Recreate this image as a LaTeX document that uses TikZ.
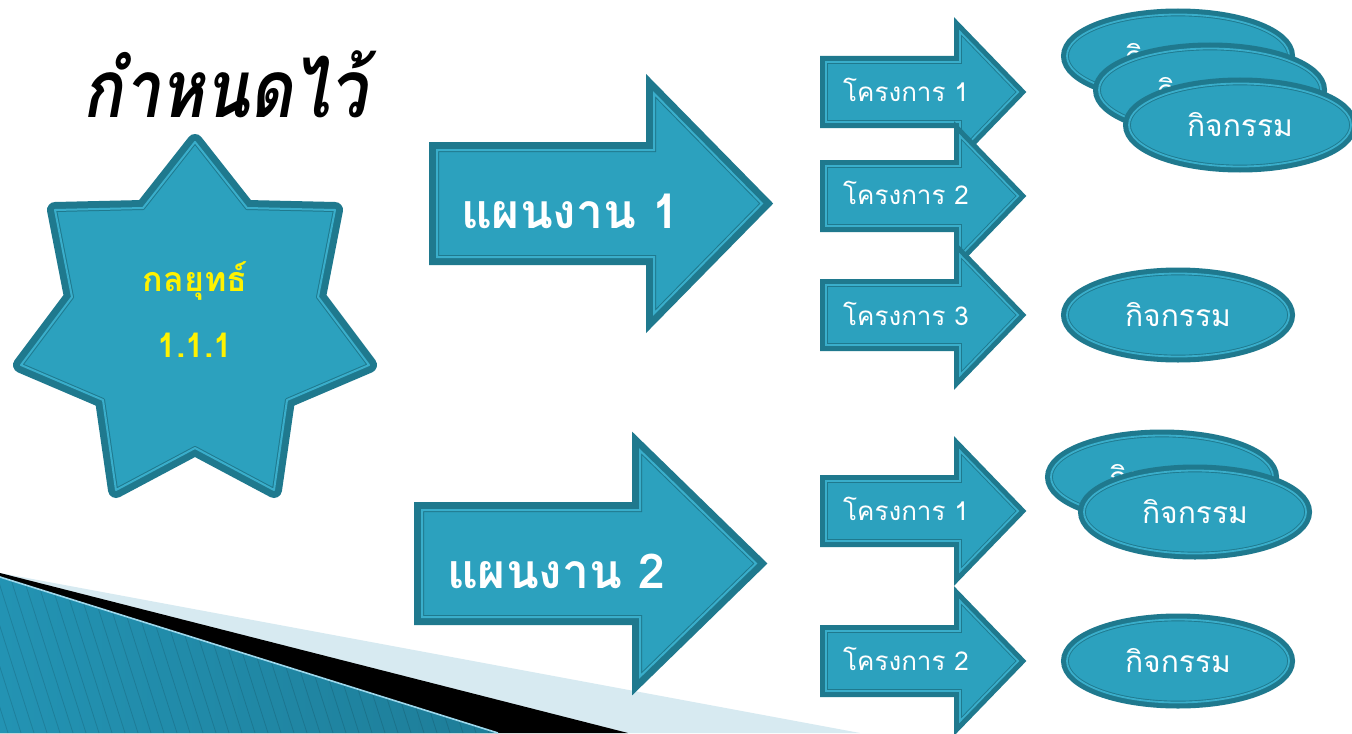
\documentclass[tikz,border=0pt]{standalone}
\usepackage{fontspec}
\usetikzlibrary{shapes.geometric}
\newfontfamily\thaifont[Script=Thai]{Loma}
\newfontfamily\titlefont[Script=Thai,FakeStretch=0.83]{Loma}
\definecolor{tealfill}{HTML}{2CA1BE}
\definecolor{tealdark}{HTML}{1F798E}
\definecolor{teallight}{HTML}{3AAECB}
\definecolor{paleblue}{HTML}{D7EAF1}
\definecolor{stripedark}{HTML}{2393B3}
\definecolor{stripelight}{HTML}{5CBEDF}
\def\planarrow[#1](#2,#3)(#4:#5:#6:#7){\draw[#1] (#2,{#3-#5}) -- ({#2+#4-#7},{#3-#5}) -- ({#2+#4-#7},{#3-#6}) -- ({#2+#4},#3) -- ({#2+#4-#7},{#3+#6}) -- ({#2+#4-#7},{#3+#5}) -- (#2,{#3+#5}) -- cycle;}
\tikzset{
	tealshape/.style={fill=tealfill, preaction={draw=tealdark, line width=8pt, line join=miter}, draw=tealdark, double=teallight, line width=0.5pt, double distance=1pt, line join=miter},
	starshape/.style={fill=tealfill, preaction={draw=tealdark, line width=8pt, line join=round}, draw=tealdark, double=teallight, line width=0.5pt, double distance=1pt, line join=round},
	smallshape/.style={fill=tealfill, preaction={draw=tealdark, line width=6pt, line join=miter}, draw=tealdark, double=teallight, line width=0.45pt, double distance=0.9pt, line join=miter},
	actbox/.style={ellipse, fill=tealfill, preaction={draw=tealdark, line width=6pt}, draw=tealdark, double=teallight, line width=0.45pt, double distance=0.9pt, minimum width=111pt, minimum height=41.5pt, text=white, font=\thaifont\fontsize{15}{18}\selectfont},
	projtext/.style={text=white, font=\thaifont\fontsize{13}{15}\selectfont},
	plantext/.style={text=white, font=\thaifont\bfseries\fontsize{24}{28}\selectfont},
	strattext/.style={text=yellow, font=\thaifont\bfseries\fontsize{17}{20}\selectfont}
}
\begin{document}
\begin{tikzpicture}[x=0.5pt, y=-0.5pt]
		%%%%% START %%%%%
		\clip (0, 0) rectangle (1352, 733);
		\fill[white] (0, 0) rectangle (1352, 733);
		
		% corner decoration
		\fill[paleblue] (0, 573) -- (860, 733) -- (0, 733) -- cycle;
		\fill[black] (0, 573) -- (628, 733) -- (0, 733) -- cycle;
		\shade[left color=stripedark, middle color=stripelight, right color=stripedark!85!black] (0, 577) -- (498, 733) -- (0, 733) -- cycle;
		\begin{scope}
			\clip (0, 577) -- (498, 733) -- (0, 733) -- cycle;
			\foreach \s in {-70,-57,...,520}
				\draw[line width=0.4pt, color=black, opacity=0.12] (\s, 570) -- ({\s+52}, 733);
		\end{scope}
		\draw[line width=0.8pt, color=stripelight!60!white] (0, 577) -- (498, 733);
		
		% title
		\node (title) at (225, 84) {\titlefont\bfseries\itshape\fontsize{40}{44}\selectfont กำหนดไว้};
		
		% star
		\draw[starshape] (195, 142) -- (247, 208) -- (335, 210) -- (318, 297) -- (369, 365) -- (287, 400) -- (274, 490) -- (195, 448) -- (116, 490) -- (103, 400) -- (21, 365) -- (72, 297) -- (55, 210) -- (143, 208) -- cycle;
		\node[strattext] (strat) at (195, 281) {กลยุทธ์};
		\node[strattext] (stratnum) at (195, 345) {1.1.1};
		
		% plans
		\planarrow[tealshape](437, 203.5)(325:53.5:110:108);
		\node[plantext] (plan1) at (570, 211) {แผนงาน 1};
		\planarrow[tealshape](422, 563.5)(334:53.5:113:116);
		\node[plantext] (plan2) at (556, 571) {แผนงาน 2};
		
		% projects
		\planarrow[smallshape](826, 92)(192:30:60:58);
		\node[projtext] (proj11) at (906, 90) {โครงการ 1};
		\planarrow[smallshape](826, 196)(192:30:60:58);
		\node[projtext] (proj12) at (906, 193) {โครงการ 2};
		\planarrow[smallshape](826, 315)(192:30:60:58);
		\node[projtext] (proj13) at (906, 314) {โครงการ 3};
		\planarrow[smallshape](826, 511)(192:30:60:58);
		\node[projtext] (proj21) at (906, 509) {โครงการ 1};
		\planarrow[smallshape](826, 661)(192:30:60:58);
		\node[projtext] (proj22) at (906, 659) {โครงการ 2};
		
		% activities
		\node[actbox] (act1) at (1178, 56) {กิจกรรม};
		\node[actbox] (act2) at (1210, 90) {กิจกรรม};
		\node[actbox] (act3) at (1240, 125) {กิจกรรม};
		\node[actbox] (act4) at (1178, 315) {กิจกรรม};
		\node[actbox] (act5) at (1162, 477) {กิจกรรม};
		\node[actbox] (act6) at (1195, 512) {กิจกรรม};
		\node[actbox] (act7) at (1178, 661) {กิจกรรม};
		
		%%%%% END %%%%%
\end{tikzpicture}
\end{document}
